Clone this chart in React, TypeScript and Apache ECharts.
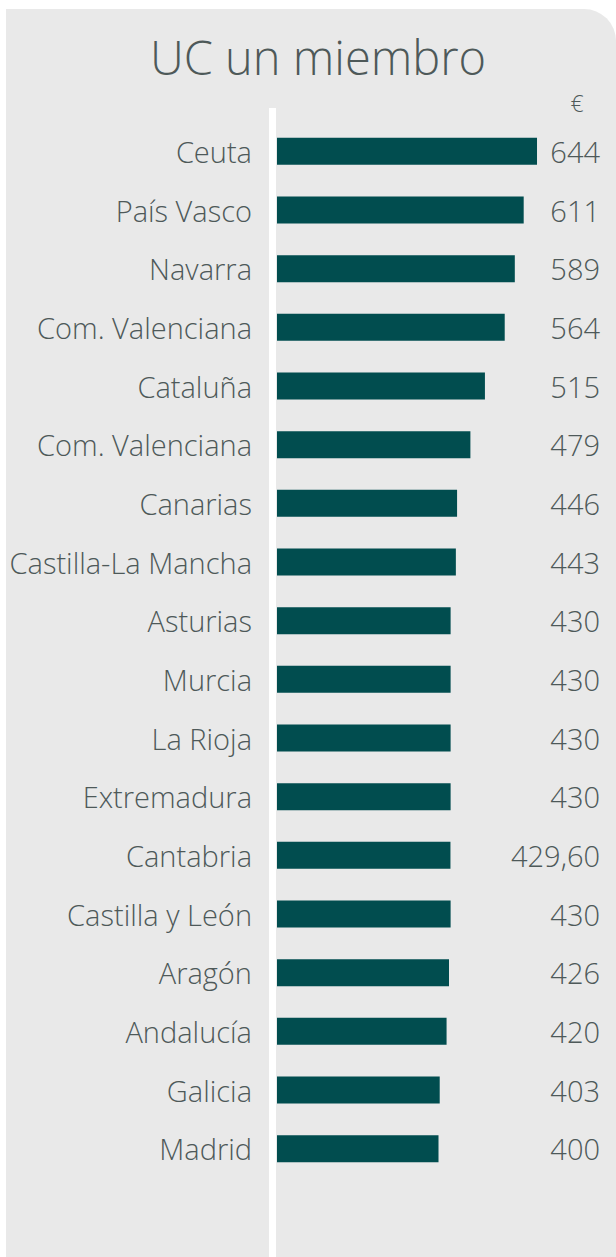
import React, { useEffect, useRef } from "react";
import * as echarts from "echarts";

const title = "UC un miembro";
const unit = "€";
const regions = [
  "Ceuta",
  "País Vasco",
  "Navarra",
  "Com. Valenciana",
  "Cataluña",
  "Com. Valenciana",
  "Canarias",
  "Castilla-La Mancha",
  "Asturias",
  "Murcia",
  "La Rioja",
  "Extremadura",
  "Cantabria",
  "Castilla y León",
  "Aragón",
  "Andalucía",
  "Galicia",
  "Madrid",
];
const values = [644, 611, 589, 564, 515, 479, 446, 443, 430, 430, 430, 430, 429.6, 430, 426, 420, 403, 400];

const fmt = (v: number) => (Number.isInteger(v) ? String(v) : v.toFixed(2).replace(".", ","));
const valueLabels = values.map(fmt);

const FONT = "'Open Sans', 'Noto Sans', sans-serif";
const TEXT = "#4e5959";
const BAR = "#014d4f";

export default function App() {
  const ref = useRef<HTMLDivElement>(null);
  useEffect(() => {
    if (!ref.current) return;
    const chart = echarts.init(ref.current, undefined, { renderer: "svg" });
    chart.setOption({
      animation: false,
      backgroundColor: "#ffffff",
      graphic: [
        {
          type: "rect",
          z: -10,
          shape: { x: 6, y: 9, width: 610, height: 1260, r: [0, 32, 0, 0] },
          style: { fill: "#e9e9e9" },
        },
        {
          type: "rect",
          z: -5,
          shape: { x: 269, y: 108, width: 7, height: 1160 },
          style: { fill: "#ffffff" },
        },
        {
          type: "text",
          x: 577,
          y: 103,
          style: {
            text: unit,
            fill: TEXT,
            font: `300 23px ${FONT}`,
            textAlign: "center",
            textVerticalAlign: "middle",
          },
        },
      ],
      title: {
        text: title,
        left: 313,
        top: 28,
        textAlign: "center",
        textStyle: { color: TEXT, fontFamily: FONT, fontWeight: 300, fontSize: 47 },
      },
      grid: { left: 277, right: 16, top: 122, bottom: 79, outerBoundsMode: "none" },
      xAxis: {
        type: "value",
        min: 0,
        max: 800,
        show: false,
      },
      yAxis: [
        {
          type: "category",
          data: regions,
          inverse: true,
          position: "left",
          axisLine: { show: false },
          axisTick: { show: false },
          axisLabel: { margin: 25, color: TEXT, fontFamily: FONT, fontWeight: 300, fontSize: 29 },
        },
        {
          type: "category",
          data: valueLabels,
          inverse: true,
          position: "right",
          axisLine: { show: false },
          axisTick: { show: false },
          axisLabel: { margin: 0, align: "right", color: TEXT, fontFamily: FONT, fontWeight: 300, fontSize: 29 },
        },
      ],
      series: [
        {
          type: "bar",
          data: values,
          barWidth: 27,
          itemStyle: { color: BAR },
          silent: true,
        },
      ],
    });
    return () => chart.dispose();
  }, []);
  return (
    <div
      ref={ref}
      style={{ position: "absolute", left: 0, top: 0, width: 616, height: 1257 }}
    />
  );
}
